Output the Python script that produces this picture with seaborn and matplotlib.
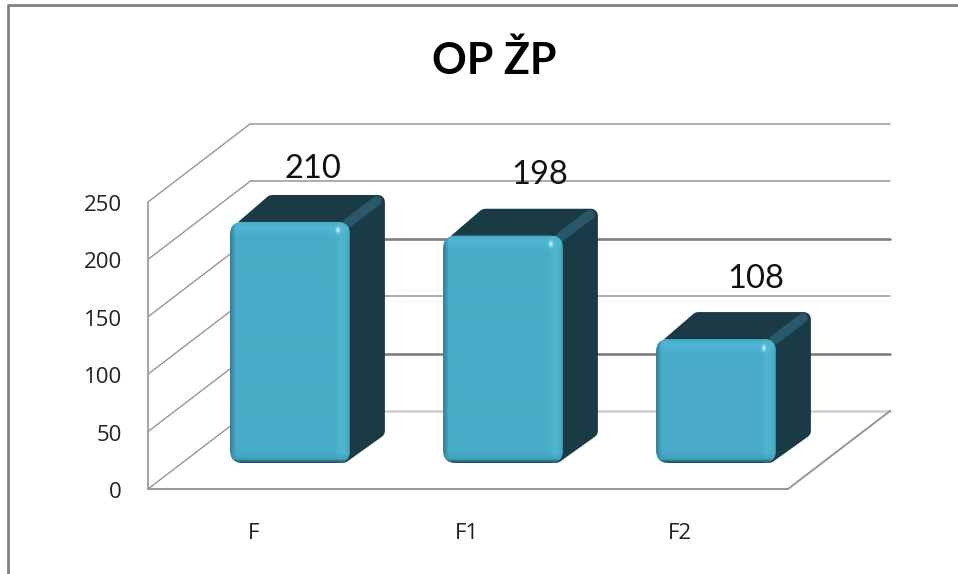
#!/usr/bin/env python3

import matplotlib

matplotlib.use("Agg")

import matplotlib.pyplot as plt
import numpy as np
import pandas as pd
import seaborn as sns
from matplotlib.patches import FancyBboxPatch, Polygon
from matplotlib.transforms import ScaledTranslation

categories = ["F", "F1", "F2"]
values = [210, 198, 108]
y_ticks = [0, 50, 100, 150, 200, 250]
title = "OP ŽP"

W, H = 958, 574
DEPTH = (35, -27)  # bar depth in pixels
WALL = (102, -78)  # wall depth in pixels
FLOOR_SHIFT = (-35, 26)  # from the bar plane to the front of the box
LABEL_SHIFT = [(23, 53), (37, 61), (40, 60)]  # value labels, pixels from bar top


def hide_axes(ax: plt.Axes) -> None:
    for spine in ax.spines.values():
        spine.set_visible(False)
    ax.patch.set_alpha(0)


def face_image(w: int, h: int) -> np.ndarray:
    # bevelled front of a bar: flat colour with darker and lighter edges
    base = np.array([72, 171, 198], dtype=float)
    xx, yy = np.meshgrid(np.arange(w) + 0.5, np.arange(h) + 0.5)
    img = np.ones((h, w, 3)) * base

    def band(dist, size, color):
        a = np.clip(1 - dist / size, 0, 1)[..., None]
        img[:] = img * (1 - a) + np.array(color, dtype=float) * a

    band(np.abs(w - 8 - xx), 8, (80, 182, 206))
    band(np.abs(yy - 7), 9, (78, 182, 214))
    band(xx, 6, (48, 124, 146))
    band(w - xx, 2, (56, 136, 156))
    band(h - yy, 10, (62, 150, 174))
    band(h - yy, 4, (24, 70, 84))
    band(yy, 2, (64, 155, 180))
    spot = np.exp(-(((xx - (w - 12)) / 2.0) ** 2 + ((yy - 9) / 3.0) ** 2))[..., None]
    img[:] = img * (1 - spot) + np.array([190, 245, 255.0]) * spot
    return img / 255


sns.set_theme(style="white")
plt.rcParams["font.family"] = ["Open Sans", "DejaVu Sans"]

fig = plt.figure(figsize=(W / 100, H / 100), dpi=100, facecolor="white")

# pixel canvas behind the chart: frame, walls and the sides of the bars
bg = fig.add_axes([0, 0, 1, 1])
bg.set_xlim(0, W)
bg.set_ylim(H, 0)
bg.axis("off")

# bar plane, the y scale runs from 463 px (0) to 176 px (250)
left, right, bottom, top = 183.5, 822.5, 463, 176
ax = fig.add_axes([left / W, 1 - bottom / H, (right - left) / W, (bottom - top) / H])
hide_axes(ax)

df = pd.DataFrame({"category": categories, "value": values})
sns.barplot(
    data=df, x="category", y="value", ax=ax, color="#48ABC6", saturation=1, width=0.563
)
ax.set_xlim(-0.5, 2.5)
ax.set_ylim(0, 250)
ax.set_yticks(y_ticks)
ax.set_xlabel("")
ax.set_ylabel("")


def to_px(x: float, y: float) -> np.ndarray:
    disp = ax.transData.transform((x, y))
    return bg.transData.inverted().transform(disp)


# box around the plot
wall_color = "#969696"
x0 = 148
x1 = 788
back_styles = {0: ("#cccccc", 1.8), 50: ("#7d7d7d", 1.9), 150: ("#7d7d7d", 1.9)}
for tick in y_ticks:
    _, py = to_px(0, tick)
    py += FLOOR_SHIFT[1]
    bg.plot(
        [x0, x0 + WALL[0]],
        [py, py + WALL[1]],
        color=wall_color,
        lw=1.0,
        zorder=1,
    )
    back_color, back_lw = back_styles.get(tick, (wall_color, 1.1))
    bg.plot(
        [x0 + WALL[0], x1 + WALL[0]],
        [py + WALL[1]] * 2,
        color=back_color,
        lw=back_lw,
        zorder=1,
    )

_, floor_y = to_px(0, 0)
floor_y += FLOOR_SHIFT[1]
_, wall_top = to_px(0, y_ticks[-1])
wall_top += FLOOR_SHIFT[1]
bg.plot([x0, x0], [wall_top, floor_y], color=wall_color, lw=1.2, zorder=2)
bg.plot(
    [x0, x1, x1 + WALL[0]],
    [floor_y, floor_y, floor_y + WALL[1]],
    color=wall_color,
    lw=1.4,
    zorder=2,
)

# outer frame, only left and top show
bg.plot([8, 8, W], [H, 5, 5], color="#808080", lw=2.0, zorder=1)

# bars: rounded bevelled front, dark top and side
dark = "#1A3B46"
for i, bar in enumerate(ax.patches):
    xa, xb = bar.get_x(), bar.get_x() + bar.get_width()
    (px0, py1), (px1, py0) = to_px(xa, 0), to_px(xb, bar.get_height())
    dx, dy = DEPTH

    inset = 7
    bg.add_patch(
        Polygon(
            [
                (px0 + inset + 6, py0 + inset - 2),
                (px0 + dx + inset, py0 + dy + inset),
                (px1 + dx - inset, py0 + dy + inset),
                (px1 + dx - inset, py1 + dy - inset + 2),
                (px1 - inset, py1 - inset),
                (px1 - inset, py0 + inset),
            ],
            closed=True,
            fc=dark,
            ec=dark,
            lw=10,
            joinstyle="round",
            zorder=3,
        )
    )
    # lighter ridge from the front corner to the back corner
    bg.plot(
        [px1 - 2, px1 + dx - 8],
        [py0 + 1, py0 + dy + 6],
        color="#28586A",
        lw=7,
        solid_capstyle="round",
        zorder=4,
    )

    w_px, h_px = int(round(px1 - px0)), int(round(py1 - py0))
    round_box = FancyBboxPatch(
        (px0 + 12, py0 + 12),
        px1 - px0 - 24,
        py1 - py0 - 24,
        boxstyle="round,pad=12,rounding_size=13",
        transform=bg.transData,
    )
    bar.set_clip_path(round_box)
    im = ax.imshow(
        face_image(w_px, h_px),
        extent=(xa, xb, 0, bar.get_height()),
        aspect="auto",
        origin="upper",
        zorder=bar.get_zorder() + 1,
        interpolation="bilinear",
    )
    im.set_clip_path(round_box)

    sx, sy = LABEL_SHIFT[i]
    ax.annotate(
        f"{values[i]}",
        (bar.get_x() + bar.get_width() / 2, bar.get_height()),
        xytext=(sx * 0.72, sy * 0.72),
        textcoords="offset points",
        ha="center",
        va="center",
        fontsize=23.5,
        color="#111111",
        family=["Lato", "DejaVu Sans"],
        annotation_clip=False,
    )

ax.set_xlim(-0.5, 2.5)
ax.set_ylim(0, 250)

# tick labels sit on the front of the box, not on the bar plane
ax.tick_params(axis="both", length=0, labelsize=16, labelcolor="#222222")
ax.tick_params(axis="x", pad=0)
ax.tick_params(axis="y", pad=0)
shift_y = ScaledTranslation(
    (122 - left) / 100, -(FLOOR_SHIFT[1] + 1) / 100, fig.dpi_scale_trans
)
for lbl in ax.get_yticklabels():
    lbl.set_transform(lbl.get_transform() + shift_y)
shift_x = ScaledTranslation((FLOOR_SHIFT[0] - 1) / 100, -60 / 100, fig.dpi_scale_trans)
for lbl in ax.get_xticklabels():
    lbl.set_transform(lbl.get_transform() + shift_x)

fig.text(
    494 / W,
    1 - 61 / H,
    title,
    ha="center",
    va="center",
    fontsize=31,
    fontweight="bold",
    color="black",
    family=["Lato", "DejaVu Sans"],
)

fig.savefig("out.png", dpi=100)
